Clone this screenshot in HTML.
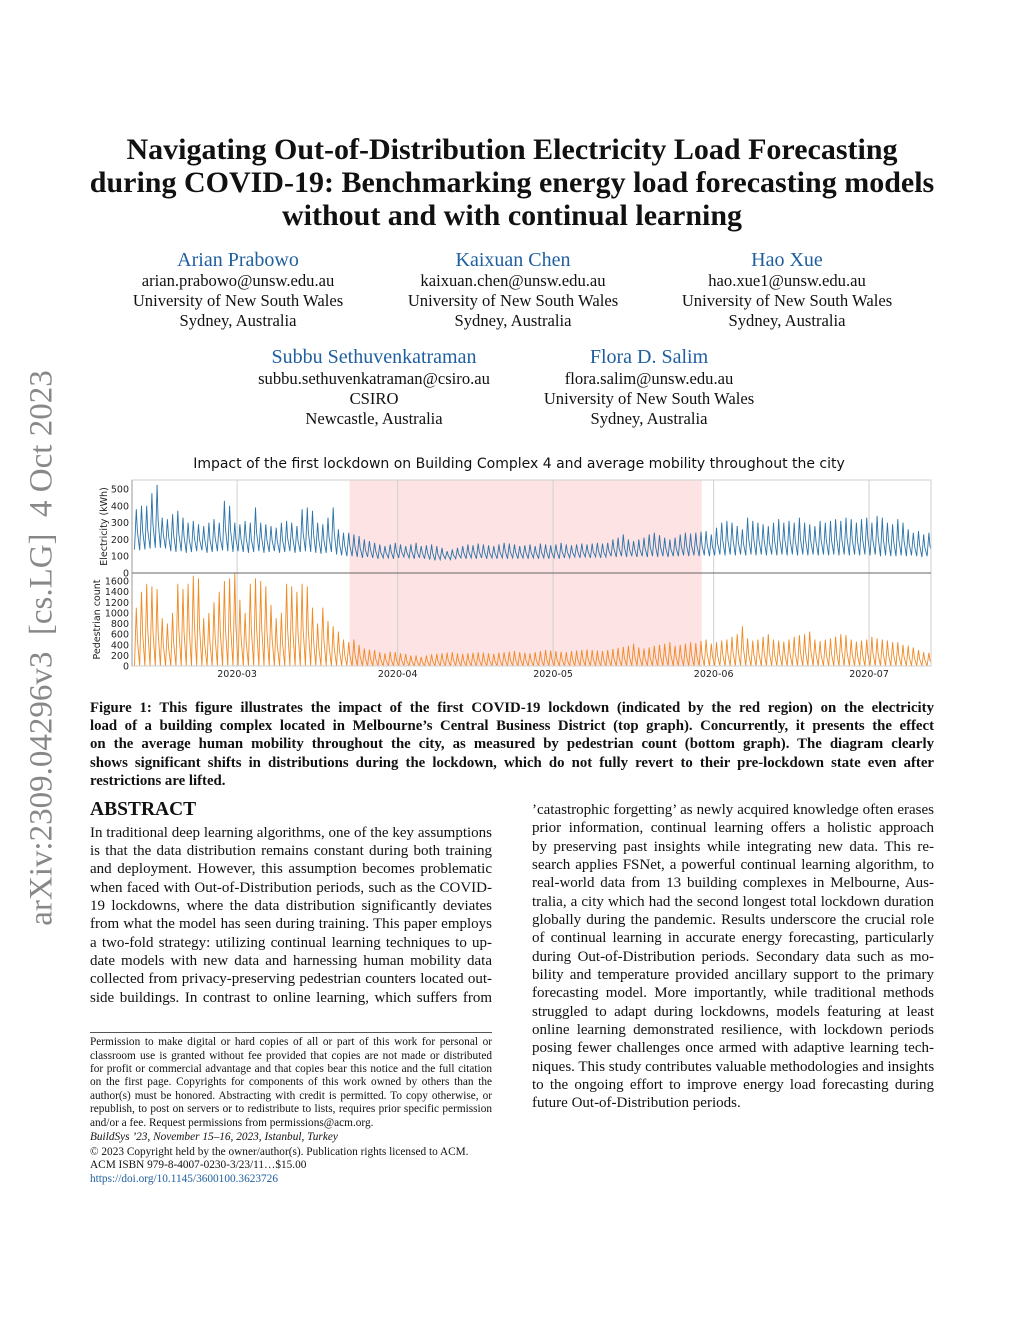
<!DOCTYPE html>
<html><head><meta charset="utf-8">
<style>
body{margin:0;background:#fff;}
#page{position:relative;width:1024px;height:1325px;overflow:hidden;background:#fff;font-family:"Liberation Serif",serif;color:#111;}
.a{position:absolute;white-space:nowrap;}
.ttl{font-weight:bold;font-size:30px;left:0;width:1024px;text-align:center;}
.auth{font-size:20px;color:#1f5fa0;text-align:center;width:300px;}
.aff{font-size:16.6px;text-align:center;width:300px;}
.cap{font-weight:bold;font-size:14.8px;left:90px;width:844px;text-align:justify;text-align-last:justify;}
.bl{font-size:15px;width:402px;text-align:justify;text-align-last:justify;}
.fn{font-size:11.3px;left:90px;width:402px;text-align:justify;text-align-last:justify;}
.last{text-align-last:left !important;}
.tk{font-family:"DejaVu Sans",sans-serif;font-size:9.5px;fill:#222;}
</style></head><body>
<div id="page">
<div class="a" style="left:42px;top:648px;transform:translate(-50%,-50%) rotate(-90deg);font-size:33px;color:#888;">arXiv:2309.04296v3&nbsp; [cs.LG]&nbsp; 4 Oct 2023</div>

<div class="a ttl" style="top:133px">Navigating Out-of-Distribution Electricity Load Forecasting</div>
<div class="a ttl" style="top:166px">during COVID-19: Benchmarking energy load forecasting models</div>
<div class="a ttl" style="top:199px">without and with continual learning</div>

<div class="a auth" style="left:88px;top:249px">Arian Prabowo</div>
<div class="a aff" style="left:88px;top:271px;line-height:20px">arian.prabowo@unsw.edu.au<br>University of New South Wales<br>Sydney, Australia</div>
<div class="a auth" style="left:363px;top:249px">Kaixuan Chen</div>
<div class="a aff" style="left:363px;top:271px;line-height:20px">kaixuan.chen@unsw.edu.au<br>University of New South Wales<br>Sydney, Australia</div>
<div class="a auth" style="left:637px;top:249px">Hao Xue</div>
<div class="a aff" style="left:637px;top:271px;line-height:20px">hao.xue1@unsw.edu.au<br>University of New South Wales<br>Sydney, Australia</div>
<div class="a auth" style="left:224px;top:346px">Subbu Sethuvenkatraman</div>
<div class="a aff" style="left:224px;top:369px;line-height:20px">subbu.sethuvenkatraman@csiro.au<br>CSIRO<br>Newcastle, Australia</div>
<div class="a auth" style="left:499px;top:346px">Flora D. Salim</div>
<div class="a aff" style="left:499px;top:369px;line-height:20px">flora.salim@unsw.edu.au<br>University of New South Wales<br>Sydney, Australia</div>

<svg class="a" style="left:0;top:0" width="1024" height="700" viewBox="0 0 1024 700" id="chart">
<text x="519" y="468" text-anchor="middle" font-family="DejaVu Sans,sans-serif" font-size="14" fill="#111">Impact of the first lockdown on Building Complex 4 and average mobility throughout the city</text>
<g id="g"></g>
</svg>

<div class="a cap" style="top:700px">Figure 1: This figure illustrates the impact of the first COVID-19 lockdown (indicated by the red region) on the electricity</div>
<div class="a cap" style="top:718px">load of a building complex located in Melbourne’s Central Business District (top graph). Concurrently, it presents the effect</div>
<div class="a cap" style="top:736px">on the average human mobility throughout the city, as measured by pedestrian count (bottom graph). The diagram clearly</div>
<div class="a cap" style="top:755px">shows significant shifts in distributions during the lockdown, which do not fully revert to their pre-lockdown state even after</div>
<div class="a cap last" style="top:773px">restrictions are lifted.</div>

<div class="a" style="left:90px;top:799px;font-size:19.5px;font-weight:bold;">ABSTRACT</div>
<div>
<div class="a bl" style="left:90px;top:825px">In traditional deep learning algorithms, one of the key assumptions</div>
<div class="a bl" style="left:90px;top:843px">is that the data distribution remains constant during both training</div>
<div class="a bl" style="left:90px;top:861px">and deployment. However, this assumption becomes problematic</div>
<div class="a bl" style="left:90px;top:880px">when faced with Out-of-Distribution periods, such as the COVID-</div>
<div class="a bl" style="left:90px;top:898px">19 lockdowns, where the data distribution significantly deviates</div>
<div class="a bl" style="left:90px;top:916px">from what the model has seen during training. This paper employs</div>
<div class="a bl" style="left:90px;top:935px">a two-fold strategy: utilizing continual learning techniques to up-</div>
<div class="a bl" style="left:90px;top:953px">date models with new data and harnessing human mobility data</div>
<div class="a bl" style="left:90px;top:971px">collected from privacy-preserving pedestrian counters located out-</div>
<div class="a bl" style="left:90px;top:990px">side buildings. In contrast to online learning, which suffers from</div>
</div>
<div>
<div class="a bl" style="left:532px;top:802px">’catastrophic forgetting’ as newly acquired knowledge often erases</div>
<div class="a bl" style="left:532px;top:820px">prior information, continual learning offers a holistic approach</div>
<div class="a bl" style="left:532px;top:839px">by preserving past insights while integrating new data. This re-</div>
<div class="a bl" style="left:532px;top:857px">search applies FSNet, a powerful continual learning algorithm, to</div>
<div class="a bl" style="left:532px;top:875px">real-world data from 13 building complexes in Melbourne, Aus-</div>
<div class="a bl" style="left:532px;top:894px">tralia, a city which had the second longest total lockdown duration</div>
<div class="a bl" style="left:532px;top:912px">globally during the pandemic. Results underscore the crucial role</div>
<div class="a bl" style="left:532px;top:930px">of continual learning in accurate energy forecasting, particularly</div>
<div class="a bl" style="left:532px;top:949px">during Out-of-Distribution periods. Secondary data such as mo-</div>
<div class="a bl" style="left:532px;top:967px">bility and temperature provided ancillary support to the primary</div>
<div class="a bl" style="left:532px;top:985px">forecasting model. More importantly, while traditional methods</div>
<div class="a bl" style="left:532px;top:1004px">struggled to adapt during lockdowns, models featuring at least</div>
<div class="a bl" style="left:532px;top:1022px">online learning demonstrated resilience, with lockdown periods</div>
<div class="a bl" style="left:532px;top:1040px">posing fewer challenges once armed with adaptive learning tech-</div>
<div class="a bl" style="left:532px;top:1059px">niques. This study contributes valuable methodologies and insights</div>
<div class="a bl" style="left:532px;top:1077px">to the ongoing effort to improve energy load forecasting during</div>
<div class="a bl last" style="left:532px;top:1095px">future Out-of-Distribution periods.</div>
</div>

<div class="a" style="left:90px;top:1032px;width:402px;height:1px;background:#555"></div>
<div>
<div class="a fn" style="top:1036px">Permission to make digital or hard copies of all or part of this work for personal or</div>
<div class="a fn" style="top:1050px">classroom use is granted without fee provided that copies are not made or distributed</div>
<div class="a fn" style="top:1063px">for profit or commercial advantage and that copies bear this notice and the full citation</div>
<div class="a fn" style="top:1076px">on the first page. Copyrights for components of this work owned by others than the</div>
<div class="a fn" style="top:1090px">author(s) must be honored. Abstracting with credit is permitted. To copy otherwise, or</div>
<div class="a fn" style="top:1103px">republish, to post on servers or to redistribute to lists, requires prior specific permission</div>
<div class="a fn last" style="top:1117px">and/or a fee. Request permissions from permissions@acm.org.</div>
<div class="a fn last" style="top:1131px;font-style:italic">BuildSys ’23, November 15–16, 2023, Istanbul, Turkey</div>
<div class="a fn last" style="top:1146px">© 2023 Copyright held by the owner/author(s). Publication rights licensed to ACM.</div>
<div class="a fn last" style="top:1159px">ACM ISBN 979-8-4007-0230-3/23/11…$15.00</div>
<div class="a fn last" style="top:1173px;color:#1f5fa0">https://doi.org/10.1145/3600100.3623726</div>
</div>
</div>
<script>
// day 0 = 2020-02-10 (Mon)
const monthLabels = ["2020-03","2020-04","2020-05","2020-06","2020-07"];
const monthDays = [20,51,81,112,142];
const lockdownSpan = [41.7,109.7];
const elecTicks = [0,100,200,300,400,500];
const pedTicks = [0,200,400,600,800,1000,1200,1400,1600];
const elecPeak = [380,400,400,475,525,330,320, 350,370,330,300,310,290,280, 300,320,300,430,400,300,290, 310,300,390,300,290,280,270, 300,310,300,280,380,390,370, 300,290,330,390,260,240,240, 230,220,200,190,180,170,160, 170,180,170,160,170,180,160, 165,170,160,150,130,140,150, 160,170,165,175,170,165,160, 170,180,175,170,160,165,170, 160,175,170,165,170,180,170, 165,170,175,170,175,180,175, 180,200,210,230,200,190,200, 210,230,240,225,210,200,210, 230,240,235,240,245,250,230, 270,300,310,300,280,260,330, 310,300,290,280,300,320,300, 310,300,330,300,290,280,310, 300,310,320,310,330,320,300, 320,330,300,340,330,300,290, 320,300,260,240,250,230,240, 200];
const elecLow = [140,135,140,145,150,150,145, 130,125,130,120,125,130,135, 120,125,130,135,130,125,130, 125,120,125,130,120,125,130, 120,125,130,120,125,130,125, 120,115,120,125,110,105,100, 100,95,90,95,90,85,90, 90,85,90,95,90,85,90, 85,80,75,80,85,80,85, 90,85,90,85,90,85,90, 85,90,85,90,85,90,85, 90,85,90,85,90,85,90, 90,95,90,95,90,95,90, 95,100,95,100,95,100,95, 100,95,100,95,100,95,100, 100,105,100,105,100,105,100, 105,110,105,110,105,110,105, 110,105,110,105,110,105,110, 105,110,105,110,105,110,105, 110,105,110,105,110,105,110, 105,110,105,110,100,105,100, 100,105,100,105,100,95,100, 110];
const pedPeak = [1100,1400,1550,1500,1450,900,800, 1000,1550,1450,1550,1700,1650,900, 1000,1200,1400,1600,1650,1750,1250, 1000,1550,1650,1600,1500,1150,900, 1000,1550,1500,1400,1550,1500,1100, 800,1100,850,750,650,500,450, 500,400,330,310,300,260,240, 270,260,240,230,200,200,170, 200,220,230,240,250,260,240, 230,240,250,260,250,240,230, 250,260,270,280,260,250,240, 260,280,300,290,280,270,260, 280,290,300,310,300,290,280, 300,320,340,360,380,420,350, 330,350,380,400,420,450,380, 400,420,450,430,470,500,420, 450,480,500,550,600,750,520, 480,500,550,600,500,480,460, 500,550,580,600,650,500,470, 500,520,550,600,580,500,460, 480,500,550,520,500,480,450, 450,400,380,350,300,260,250, 300];
const pedLow = pedPeak.map(() => 0);

const L=132,R=931,T=480,MID=573,B=666;
const x = d => 133.5 + d*5.18;
const yE = v => MID - v*0.168;
const yP = v => B - v*0.0531;
const g = document.getElementById('g');
const NS='http://www.w3.org/2000/svg';
function mk(tag, attrs){const e=document.createElementNS(NS,tag);for(const k in attrs)e.setAttribute(k,attrs[k]);g.appendChild(e);return e;}

const clip=document.createElementNS(NS,'clipPath');clip.setAttribute('id','cp');
const cr=document.createElementNS(NS,'rect');cr.setAttribute('x',L);cr.setAttribute('y',T);cr.setAttribute('width',R-L);cr.setAttribute('height',B-T);clip.appendChild(cr);g.appendChild(clip);

const band=mk('rect',{x:x(lockdownSpan[0]),y:T,width:x(lockdownSpan[1])-x(lockdownSpan[0]),height:B-T,fill:'#fde3e4'});



monthDays.forEach((d,i)=>{
  const gl=mk('line',{x1:x(d),x2:x(d),y1:T,y2:B,stroke:'#d0d0d0','stroke-width':1});
  
  
  const t=mk('text',{x:x(d),y:B+11,'text-anchor':'middle',class:'tk'});t.textContent=monthLabels[i];
  
  
});
elecTicks.forEach(v=>{
  const t=mk('text',{x:L-3,y:yE(v)+3.5,'text-anchor':'end',class:'tk'});t.textContent=v;
  
  
});
pedTicks.forEach(v=>{
  const t=mk('text',{x:L-3,y:yP(v)+3.5,'text-anchor':'end',class:'tk'});t.textContent=v;
  
  
});
function series(peaks,lows,yf,color,name){
  let p='';
  peaks.forEach((v,i)=>{
    p+=(i?'L':'M')+x(i+0.2).toFixed(1)+','+yf(lows[i]).toFixed(1);
    p+='L'+x(i+0.55).toFixed(1)+','+yf(v).toFixed(1);
    p+='L'+x(i+0.75).toFixed(1)+','+yf(lows[i]+(v-lows[i])*0.45).toFixed(1);
  });
  const e=mk('path',{d:p,fill:'none',stroke:color,'stroke-width':0.9,'clip-path':'url(#cp)'});
  
  
}
series(elecPeak,elecLow,yE,'#2b73a8','electricity-line');
series(pedPeak,pedLow,yP,'#f08a24','pedestrian-line');

const fr=mk('rect',{x:L,y:T,width:R-L,height:B-T,fill:'none',stroke:'#cfcfcf'});


const dv=mk('line',{x1:L,x2:R,y1:MID,y2:MID,stroke:'#666','stroke-width':1});


const ax=mk('line',{x1:L,x2:L,y1:T,y2:B,stroke:'#999'});


const t1=mk('text',{x:0,y:0,transform:`translate(107,${(T+MID)/2}) rotate(-90)`,'text-anchor':'middle',class:'tk'});t1.textContent='Electricity (kWh)';


const t2=mk('text',{x:0,y:0,transform:`translate(100,${(MID+B)/2}) rotate(-90)`,'text-anchor':'middle',class:'tk'});t2.textContent='Pedestrian count';


</script>
</body></html>
